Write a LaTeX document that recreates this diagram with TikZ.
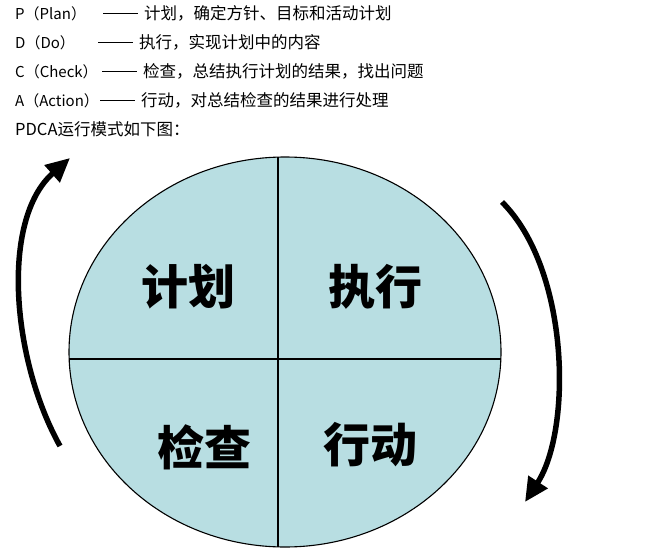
\documentclass[tikz,border=0pt]{standalone}
\usepackage{fontspec}
\setmainfont{Noto Sans CJK SC}
\usetikzlibrary{arrows.meta}
\definecolor{pdcafill}{HTML}{B8DEE2}
\newcommand{\lead}[2]{\makebox[#1][l]{\fontsize{15}{16}\selectfont #2}\rule[0.3em]{35pt}{0.7pt}\hspace{6pt}}
\begin{document}
\begin{tikzpicture}[x=1pt,y=-1pt,font=\fontsize{16.5}{18}\selectfont,
  line/.style={anchor=west,inner sep=0pt},
  big/.style={font=\fontsize{47}{50}\selectfont\bfseries},
  turn/.style={line width=5.5pt,-{Triangle[length=24pt,width=22pt]}}]
\useasboundingbox (0,0) rectangle (650,556);

\node[line] (l1) at (15,13) {\lead{88pt}{P（Plan）}计划，确定方针、目标和活动计划};
\node[line] (l2) at (15,42) {\lead{83pt}{D（Do）}执行，实现计划中的内容};
\node[line] (l3) at (15,71) {\lead{87pt}{C（Check）}检查，总结执行计划的结果，找出问题};
\node[line] (l4) at (15,100) {\lead{85pt}{A（Action）}行动，对总结检查的结果进行处理};
\node[line] (l5) at (15,129) {PDCA运行模式如下图：};

\coordinate (o) at (285,352);
\draw[fill=pdcafill,line width=1.1pt] (o) ellipse [x radius=216,y radius=195];
\begin{scope}
\clip (o) ellipse [x radius=216,y radius=195];
\draw[line width=1.1pt] (278,150) -- (278,560);
\draw[line width=1.1pt] (60,359) -- (510,359);
\end{scope}

\node[big] (p) at (188,287) {计划};
\node[big] (d) at (375,287) {执行};
\node[big] (c) at (204,447) {检查};
\node[big] (a) at (370,445) {行动};

\draw[turn] (60,446) .. controls (12,360) and (0,220) .. (70,158);
\draw[turn] (502,202) .. controls (570,270) and (572,430) .. (525,502);

\end{tikzpicture}
\end{document}
